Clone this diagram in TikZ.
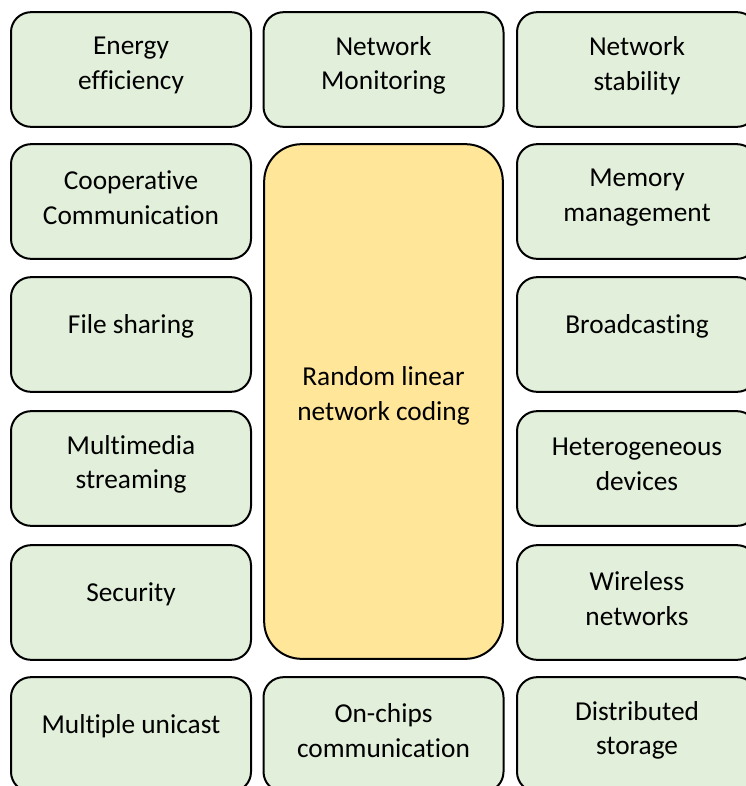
\documentclass[tikz,border=0pt]{standalone}
\usepackage{fontspec}
\setmainfont{Carlito}[Ligatures=NoCommon]
\definecolor{tilegreen}{HTML}{E2EFDA}
\definecolor{coreyellow}{HTML}{FFE699}
\tikzset{
  tile/.style={draw=black, line width=1.5pt, fill=tilegreen, rounded corners=15pt,
    minimum width=180pt, minimum height=86pt, inner sep=0pt},
  core/.style={draw=black, line width=1.5pt, fill=coreyellow, rounded corners=28pt,
    minimum width=179pt, minimum height=386pt, inner sep=0pt},
  caption/.style={align=center, font=\fontsize{20.5}{26}\selectfont, text=black, inner sep=0pt}
}
\begin{document}
\begin{tikzpicture}[x=0.75pt, y=-0.75pt]
  \useasboundingbox (0,0) rectangle (746,786);
  \fill[white] (0,0) rectangle (746,786);
  \clip (0,0) rectangle (746,786);

  % left column
  \node[tile] (e1) at (131,69.5) {};
  \node[tile] (e2) at (131,201.5) {};
  \node[tile] (e3) at (131,334.5) {};
  \node[tile] (e4) at (131,468.5) {};
  \node[tile] (e5) at (131,602.5) {};
  \node[tile] (e6) at (131,734.5) {};
  % middle column
  \node[tile] (m1) at (383.5,69.5) {};
  \node[core] (mc) at (383.5,401.5) {};
  \node[tile] (m6) at (383.5,734.5) {};
  % right column
  \node[tile] (r1) at (637,69.5) {};
  \node[tile] (r2) at (637,201.5) {};
  \node[tile] (r3) at (637,334.5) {};
  \node[tile] (r4) at (637,468.5) {};
  \node[tile] (r5) at (637,602.5) {};
  \node[tile] (r6) at (637,734.5) {};

  % captions, set slightly above each box centre
  \node[caption] (te1) at ([yshift=3pt]e1.center) {Energy\\efficiency};
  \node[caption] (te2) at ([yshift=3pt]e2.center) {Cooperative\\Communication};
  \node[caption] (te3) at ([yshift=6pt]e3.center) {File sharing};
  \node[caption] (te4) at ([yshift=3pt]e4.center) {Multimedia\\streaming};
  \node[caption] (te5) at ([yshift=6pt]e5.center) {Security};
  \node[caption] (te6) at ([yshift=6pt]e6.center) {Multiple unicast};
  \node[caption] (tm1) at ([yshift=3pt]m1.center) {Network\\Monitoring};
  \node[caption] (tmc) at ([yshift=4pt]mc.center) {Random linear\\network coding};
  \node[caption] (tm6) at ([yshift=3pt]m6.center) {On-chips\\communication};
  \node[caption] (tr1) at ([yshift=3pt]r1.center) {Network\\stability};
  \node[caption] (tr2) at ([yshift=3pt]r2.center) {Memory\\management};
  \node[caption] (tr3) at ([yshift=6pt]r3.center) {Broadcasting};
  \node[caption] (tr4) at ([yshift=3pt]r4.center) {Heterogeneous\\devices};
  \node[caption] (tr5) at ([yshift=3pt]r5.center) {Wireless\\networks};
  \node[caption] (tr6) at ([yshift=3pt]r6.center) {Distributed\\storage};
\end{tikzpicture}
\end{document}
